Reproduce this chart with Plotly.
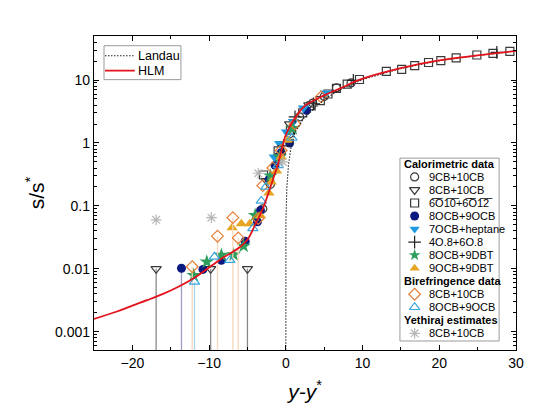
import plotly.graph_objects as go

FONT = "Liberation Sans, Arial, sans-serif"

# model curves
hlm_x = [-25, -22, -20, -18, -16, -14, -12, -10, -8, -6, -5, -4, -3, -2, -1, 0, 1, 2.5, 5, 7, 10, 15, 20, 25, 30]
hlm_y = [0.0016, 0.0021, 0.0026, 0.0032, 0.004, 0.0052, 0.0071, 0.0105, 0.0155, 0.022, 0.029, 0.05, 0.09, 0.2,
         0.47, 1.35, 2.3, 3.9, 5.7, 7.3, 10.5, 15.5, 20.5, 24.6, 29]
landau_x = [0, 0.01, 0.13, 0.34, 0.65, 1.2, 2.3, 3.6, 5, 7, 10, 15, 20, 25, 30]
landau_y = [0.0001, 0.056, 0.19, 0.44, 0.81, 1.48, 2.45, 3.4, 4.9, 7.0, 10.2, 15.3, 20.3, 24.5, 29]

# calorimetric data
cb9_cb10_x = [-3.0, -2.0, -0.9, 0.5, 1.8, 3.5, 5.0, 6.6, 8.5]
cb9_cb10_y = [0.09, 0.22, 0.55, 1.4, 2.6, 4.3, 5.5, 7.5, 9.0]

cb8_cb10_x = [-16.9, -9.8, -5.0, -2.5, -0.7, 0.5, 3.0]
cb8_cb10_y = [0.01, 0.01, 0.01, 0.25, 0.63, 2.0, 4.0]
cb8_cb10_err = [0.01, 0.01, 0.01, 0, 0, 0, 0]

o6_x = [-2.9, -1.0, 0.6, 2.2, 3.3, 4.5, 5.5, 6.6, 8.0, 9.6, 13.1, 15.1, 16.8, 18.6, 20.2, 22.2, 24.9, 27.0, 29.2]
o6_y = [0.31, 0.75, 1.6, 3.0, 3.9, 4.7, 6.0, 7.4, 8.6, 10.2, 13.7, 14.8, 16.9, 19.0, 20.3, 22.5, 25.0, 26.6, 28.5]

ocb8_ocb9_x = [-13.6, -10.8, -8.4, -5.3, -3.7, -3.3, -2.2, -1.4, -0.6, 0.5, 2.7]
ocb8_ocb9_y = [0.0102, 0.0098, 0.0137, 0.0275, 0.056, 0.085, 0.26, 0.44, 0.7, 1.0, 3.3]
ocb8_ocb9_err = [0.0102, 0, 0, 0, 0, 0, 0, 0, 0, 0, 0]

ocb7_hep_x = [-1.5, -0.8, 0.1, 1.0, 2.3, 5.2]
ocb7_hep_y = [0.6, 0.98, 1.5, 2.2, 3.6, 6.2]

o8_x = [-0.3, 1.2, 3.6, 8.8, 27.5]
o8_y = [0.9, 2.6, 4.2, 9.9, 27.5]

ocb8_dbt_x = [-12.0, -10.3, -8.4, -6.8, -5.5, -4.0, -2.0, -0.8, 0.9]
ocb8_dbt_y = [0.0079, 0.0129, 0.0165, 0.0168, 0.023, 0.071, 0.3, 0.6, 1.7]

ocb9_dbt_x = [-7.0, -5.8, -4.7, -3.3, -2.2, -1.9, -1.2, -0.6, 0.3]
ocb9_dbt_y = [0.045, 0.052, 0.052, 0.07, 0.16, 0.24, 0.36, 0.6, 1.1]

# birefringence data
bi_cb_x = [-12.2, -8.9, -6.9, -6.2, -3.6, -3.0, -1.7, -0.6, 1.2, 4.6]
bi_cb_y = [0.0108, 0.033, 0.065, 0.031, 0.063, 0.21, 0.4, 0.76, 2.0, 5.4]
bi_cb_err = [0.0108, 0.033, 0.065, 0.031, 0, 0, 0, 0, 0, 0]

bi_ocb_x = [-11.9, -9.3, -7.3, -4.3, -3.2, -2.6, -1.0, 0.8]
bi_ocb_y = [0.0062, 0.0155, 0.0137, 0.044, 0.12, 0.2, 0.44, 1.2]
bi_ocb_err = [0.0062, 0, 0, 0, 0, 0, 0, 0]

# Yethiraj estimates
yeth_x = [-16.9, -9.7, -3.6, -0.4]
yeth_y = [0.06, 0.065, 0.33, 0.5]

OV = "\u0305"
o6_label = "".join(c + OV for c in "6O10") + "+" + "".join(c + OV for c in "6O12")

series = [
    ("Calorimetric data", None, None, None, None),
    ("9CB+10CB", cb9_cb10_x, cb9_cb10_y, None, dict(symbol="circle-open", color="#3a3a3a", size=8)),
    ("8CB+10CB", cb8_cb10_x, cb8_cb10_y, cb8_cb10_err, dict(symbol="triangle-down-open", color="#3a3a3a", size=9, err="#8a8a8a")),
    (o6_label, o6_x, o6_y, None, dict(symbol="square-open", color="#3a3a3a", size=8)),
    ("8OCB+9OCB", ocb8_ocb9_x, ocb8_ocb9_y, ocb8_ocb9_err, dict(symbol="circle", color="#0b1a80", size=9, err="#9c9cc4")),
    ("7OCB+heptane", ocb7_hep_x, ocb7_hep_y, None, dict(symbol="triangle-down", color="#1e9be0", size=10)),
    ("4O.8+6O.8", o8_x, o8_y, None, dict(symbol="cross-thin-open", color="#222222", size=9)),
    ("8OCB+9DBT", ocb8_dbt_x, ocb8_dbt_y, None, dict(symbol="star", color="#2e9e5b", size=11)),
    ("9OCB+9DBT", ocb9_dbt_x, ocb9_dbt_y, None, dict(symbol="triangle-up", color="#e6a624", size=10)),
    ("Birefringence data", None, None, None, None),
    ("8CB+10CB", bi_cb_x, bi_cb_y, bi_cb_err, dict(symbol="diamond-open", color="#e67e35", size=9, err="#f6d8bc")),
    ("8OCB+9OCB", bi_ocb_x, bi_ocb_y, bi_ocb_err, dict(symbol="triangle-up-open", color="#3aa6de", size=9, err="#a8d6f0")),
    ("Yethiraj estimates", None, None, None, None),
    ("8CB+10CB", yeth_x, yeth_y, None, dict(symbol="asterisk-open", color="#b8b8b8", size=9)),
]

fig = go.Figure()

for row, (name, xs, ys, err, st) in enumerate(series):
    if xs is None:
        fig.add_annotation(text="<b>" + name + "</b>", xref="x2", yref="y2", x=0.02, y=row,
                           xanchor="left", showarrow=False, font=dict(size=11, family=FONT, color="black"))
        continue
    filled = not st["symbol"].endswith("open")
    mk = dict(symbol=st["symbol"], size=st["size"], color=st["color"],
              line=dict(width=0 if filled else 1.2, color=st["color"]))
    ey = None
    if err is not None:
        ey = dict(type="data", symmetric=False, array=[0] * len(err), arrayminus=err,
                  color=st["err"], thickness=1.3, width=0)
    fig.add_trace(go.Scatter(x=xs, y=ys, mode="markers", marker=mk, error_y=ey,
                             showlegend=False, xaxis="x", yaxis="y"))
    # legend entry
    lmk = dict(mk, size=min(st["size"], 9))
    fig.add_trace(go.Scatter(x=[0.148], y=[row], mode="markers", marker=lmk,
                             showlegend=False, xaxis="x2", yaxis="y2", hoverinfo="skip"))
    fig.add_annotation(text=name, xref="x2", yref="y2", x=0.27, y=row, xanchor="left",
                       showarrow=False, font=dict(size=11, family=FONT, color="black"))

DOT = dict(color="#222222", width=1.1, dash="1.5px,1.5px")
RED = dict(color="#e3121b", width=1.8)

fig.add_trace(go.Scatter(x=landau_x, y=landau_y, mode="lines", showlegend=False, line=DOT))
fig.add_trace(go.Scatter(x=hlm_x, y=hlm_y, mode="lines", showlegend=False,
                         line=dict(RED, shape="spline", smoothing=1.0)))

# small legend for the model curves
for row, (name, ln) in enumerate([("Landau", DOT), ("HLM", RED)]):
    fig.add_trace(go.Scatter(x=[0.013, 0.4], y=[row, row], mode="lines", line=ln,
                             showlegend=False, xaxis="x3", yaxis="y3", hoverinfo="skip"))
    fig.add_annotation(text=name, xref="x3", yref="y3", x=0.42, y=row, xanchor="left",
                       showarrow=False, font=dict(size=12.5, family=FONT, color="black"))

fig.add_shape(type="rect", xref="x2 domain", yref="y2 domain", x0=0, x1=1, y0=0, y1=1,
              line=dict(color="#9a9a9a", width=1))
fig.add_shape(type="rect", xref="x3 domain", yref="y3 domain", x0=0, x1=1, y0=0, y1=1,
              line=dict(color="#9a9a9a", width=1))

axis_common = dict(showline=True, linecolor="black", linewidth=1.3, mirror="ticks",
                   ticks="inside", ticklen=5, tickwidth=1.2, tickcolor="black",
                   showgrid=False, zeroline=False,
                   tickfont=dict(size=14, family=FONT, color="black"))

fig.update_layout(
    width=546, height=418,
    margin=dict(l=86, r=38, t=28, b=76),
    paper_bgcolor="white", plot_bgcolor="white",
    font=dict(family=FONT, color="black"),
    xaxis=dict(range=[-25, 30], dtick=10, tick0=0,
               minor=dict(ticks="inside", ticklen=3, dtick=5, tickcolor="black"),
               title=dict(text="<i>y-y</i><sup>*</sup>", font=dict(size=21, family=FONT), standoff=14),
               **axis_common),
    yaxis=dict(type="log", range=[-3.29, 1.70], dtick=1,
               minor=dict(ticks="inside", ticklen=3, dtick="D1", tickcolor="black"),
               title=dict(text="s/s<sup>*</sup>", font=dict(size=21, family=FONT), standoff=4),
               **axis_common),
    xaxis2=dict(domain=[0.725, 0.96], range=[0, 1], visible=False, fixedrange=True, anchor="y2"),
    yaxis2=dict(domain=[0.0287, 0.611], range=[13.59, -0.44], visible=False, fixedrange=True, anchor="x2"),
    xaxis3=dict(domain=[0.0237, 0.206], range=[0, 1], visible=False, fixedrange=True, anchor="y3"),
    yaxis3=dict(domain=[0.861, 0.969], range=[1.6, -0.667], visible=False, fixedrange=True, anchor="x3"),
)

fig.write_html("out.html")
